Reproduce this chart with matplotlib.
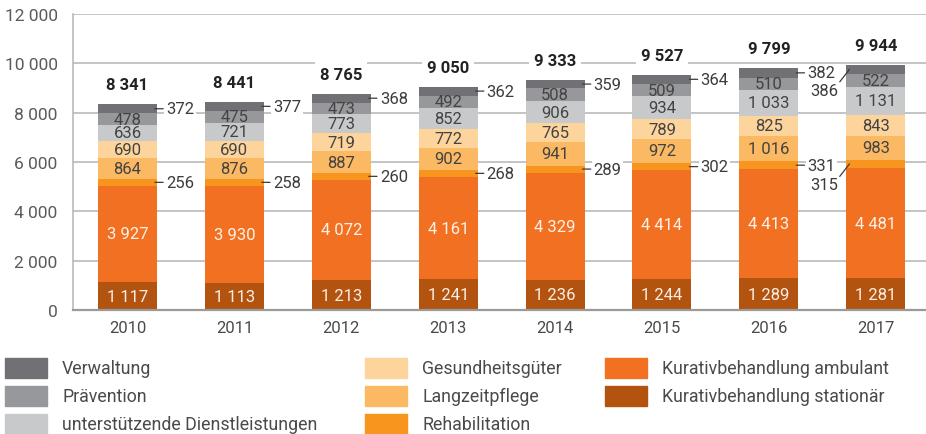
import matplotlib.pyplot as plt
from matplotlib.patches import Rectangle

# Gesundheitsausgaben nach Leistungen (Mio. EUR)
years = ['2010', '2011', '2012', '2013', '2014', '2015', '2016', '2017']

stationaer = [1117, 1113, 1213, 1241, 1236, 1244, 1289, 1281]
ambulant = [3927, 3930, 4072, 4161, 4329, 4414, 4413, 4481]
rehabilitation = [256, 258, 260, 268, 289, 302, 331, 315]
langzeitpflege = [864, 876, 887, 902, 941, 972, 1016, 983]
gesundheitsgueter = [690, 690, 719, 772, 765, 789, 825, 843]
dienstleistungen = [636, 721, 773, 852, 906, 934, 1033, 1131]
praevention = [478, 475, 473, 492, 508, 509, 510, 522]
verwaltung = [372, 377, 368, 362, 359, 364, 382, 386]
totals = [8341, 8441, 8765, 9050, 9333, 9527, 9799, 9944]

names = ['Kurativbehandlung stationär', 'Kurativbehandlung ambulant', 'Rehabilitation',
         'Langzeitpflege', 'Gesundheitsgüter', 'unterstützende Dienstleistungen',
         'Prävention', 'Verwaltung']
series = [stationaer, ambulant, rehabilitation, langzeitpflege, gesundheitsgueter,
          dienstleistungen, praevention, verwaltung]
colors = ['#b35310', '#f27022', '#f7951e', '#fbb964', '#fdd59c', '#c8c9cb', '#97989b', '#717175']
text_colors = ['#fbeee4', '#fdf1e8', '#3c3c3c', '#434343', '#434343', '#434343', '#434343', '#3c3c3c']

plt.rcParams['font.family'] = ['Roboto', 'DejaVu Sans']
NUM_W = 'normal'


def fmt(v):
    return f'{v:,}'.replace(',', ' ')


fig = plt.figure(figsize=(9.26, 4.35), dpi=100)
ax = fig.add_axes([0.0788, 0.285, 0.9212, 0.681])

x = list(range(len(years)))
width = 0.552
bottom = [0] * len(years)
for name, vals, col, tcol in zip(names, series, colors, text_colors):
    ax.bar(x, vals, width, bottom=bottom, color=col, zorder=2)
    for i, v in enumerate(vals):
        mid = bottom[i] + v / 2
        if name in ('Rehabilitation', 'Verwaltung'):
            if i == len(years) - 1:
                # letzter Balken: Beschriftung links mit schräger Linie
                ax.annotate('', xy=(i - width / 2 + 0.03, mid), xytext=(-7, -9),
                            textcoords='offset points',
                            arrowprops=dict(arrowstyle='-', color='#3c3c3c', lw=0.9,
                                            shrinkA=0, shrinkB=0), zorder=4)
                ax.annotate(fmt(v), xy=(i - width / 2 + 0.03, mid), xytext=(-8, -15),
                            textcoords='offset points', ha='right', va='center',
                            fontsize=12, fontweight=NUM_W, color='#3c3c3c', zorder=4)
            else:
                ax.annotate('', xy=(i + width / 2 - 0.02, mid), xytext=(6, 0),
                            textcoords='offset points',
                            arrowprops=dict(arrowstyle='-', color='#3c3c3c', lw=0.9,
                                            shrinkA=0, shrinkB=0), zorder=4)
                ax.annotate(fmt(v), xy=(i + width / 2, mid), xytext=(6.5, 0),
                            textcoords='offset points', ha='left', va='center',
                            fontsize=12, fontweight=NUM_W, color='#3c3c3c', zorder=3,
                            bbox=dict(boxstyle='square,pad=0.1', fc='white', ec='none'))
        else:
            ax.text(i, mid, fmt(v), ha='center', va='center', fontsize=12,
                    fontweight=NUM_W, color=tcol, zorder=3)
        bottom[i] += v

for i, t in enumerate(totals):
    ax.annotate(fmt(t), xy=(i, t), xytext=(0, 14), textcoords='offset points',
                ha='center', va='center', fontsize=12, fontweight='bold', color='#222222',
                zorder=3, bbox=dict(boxstyle='square,pad=0.3', fc='white', ec='none'))

ax.set_xlim(-0.51, 7.47)
ax.set_ylim(0, 12000)
ax.set_yticks(range(0, 12001, 2000))
ax.set_yticklabels([fmt(v) for v in range(0, 12001, 2000)])
ax.set_xticks(x)
ax.set_xticklabels(years)
ax.tick_params(axis='y', length=0, pad=11, labelsize=12.5, labelcolor='#5a5a5a')
ax.tick_params(axis='x', length=0, pad=7, labelsize=12, labelcolor='#4a4a4a')
ax.grid(axis='y', color='#b4b4b4', lw=1.1, zorder=0)
ax.set_axisbelow(True)
for side in ('top', 'right'):
    ax.spines[side].set_visible(False)
ax.spines['left'].set_color('#b4b4b4')
ax.spines['left'].set_linewidth(1.1)
ax.spines['bottom'].set_color('#9a9a9a')
ax.spines['bottom'].set_linewidth(1.6)
ax.spines['bottom'].set_zorder(3)

# Legende in drei Spalten
W, H = 926, 435
legend_order = [7, 6, 5, 4, 3, 2, 1, 0]
col_x = [5, 365, 605]
row_y = [369, 397, 425]
for k, idx in enumerate(legend_order):
    c, r = divmod(k, 3)
    x0 = col_x[c]
    y0 = row_y[r]
    fig.add_artist(Rectangle((x0 / W, 1 - (y0 + 10) / H), 42 / W, 20 / H,
                             transform=fig.transFigure, color=colors[idx]))
    fig.text((x0 + 57) / W, 1 - y0 / H, names[idx], ha='left', va='center',
             fontsize=12.8, color='#4a4a4a')

fig.savefig('out.png', dpi=100)
